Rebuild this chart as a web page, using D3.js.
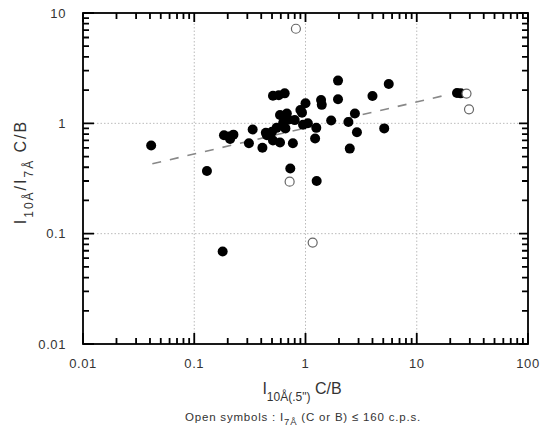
<!DOCTYPE html>
<html>
<head>
<meta charset="utf-8">
<script src="https://cdn.jsdelivr.net/npm/d3@7"></script>
<style>
  body { margin: 0; background: #fff; }
  text { font-family: "Liberation Sans", Arial, Helvetica, sans-serif; fill: #333; }
</style>
</head>
<body>
<svg width="544" height="433"></svg>
<script>
// tick labels
const xTicks = [0.01, 0.1, 1, 10, 100];
const yTicks = [0.01, 0.1, 1, 10];

// filled symbols
const filledX = [0.041, 0.13, 0.18, 0.185, 0.205, 0.225, 0.21, 0.31, 0.335, 0.41,
    0.45, 0.50, 0.55, 0.51, 0.575, 0.65, 0.59, 0.68, 0.63, 0.66,
    0.51, 0.59, 0.77, 0.73, 0.80, 0.90, 1.0, 0.93, 1.05, 0.95,
    1.25, 1.22, 1.26, 1.38, 1.40, 1.70, 1.96, 1.96, 2.43, 2.50,
    2.78, 2.90, 4.0, 5.1, 5.6, 23, 24.8, 0.70, 0.44];
const filledY = [0.63, 0.37, 0.069, 0.78, 0.76, 0.79, 0.72, 0.66, 0.88, 0.60,
    0.78, 0.84, 0.91, 1.78, 1.80, 1.87, 1.19, 1.23, 1.01, 0.90,
    0.70, 0.67, 0.66, 0.39, 1.07, 1.32, 1.52, 1.25, 1.0, 0.97,
    0.91, 0.73, 0.30, 1.63, 1.47, 1.06, 2.44, 1.65, 1.03, 0.59,
    1.23, 0.83, 1.77, 0.90, 2.27, 1.88, 1.87, 1.08, 0.82];

// open symbols
const openX = [0.82, 0.72, 1.16, 28, 29.5];
const openY = [7.2, 0.296, 0.083, 1.86, 1.34];

// fitted trend
const fitX = [0.042, 20];
const fitY = [0.43, 1.84];

const svg = d3.select('svg');
const pLeft = 83, pRight = 528, pTop = 13, pBottom = 344;

let x = d3.scaleLog().domain([0.01, 100]).range([pLeft, pRight]);
let y = d3.scaleLog().domain([0.01, 10]).range([pBottom, pTop]);

function isMajor(v) {
    let e = Math.log10(v);
    return Math.abs(e - Math.round(e)) < 1e-6;
}

// grid
let grid = svg.append('g')
    .attr('stroke', '#bbb').attr('stroke-width', 1).attr('stroke-dasharray', '1.5,2');
grid.selectAll('line.gx')
    .data(xTicks.slice(1, -1)).enter()
    .append('line')
    .attr('x1', d => x(d)).attr('x2', d => x(d))
    .attr('y1', pTop).attr('y2', pBottom);
grid.selectAll('line.gy')
    .data(yTicks.slice(1, -1)).enter()
    .append('line')
    .attr('y1', d => y(d)).attr('y2', d => y(d))
    .attr('x1', pLeft).attr('x2', pRight);

// frame
svg.append('rect')
    .attr('x', pLeft).attr('y', pTop)
    .attr('width', pRight - pLeft).attr('height', pBottom - pTop)
    .attr('fill', 'none').attr('stroke', '#000').attr('stroke-width', 1.8);

// inside ticks on all four sides, from the scales' own log ticks
let xTickVals = x.ticks();
let yTickVals = y.ticks();
let tickPath = '';
xTickVals.forEach(d => {
    let px = x(d), big = isMajor(d);
    tickPath += `M${px},${pBottom}V${pBottom - (big ? 11 : 6)}`;
    tickPath += `M${px},${pTop}V${pTop + (big ? 9 : 6)}`;
});
yTickVals.forEach(d => {
    let py = y(d), big = isMajor(d);
    tickPath += `M${pLeft},${py}H${pLeft + (big ? 11 : 6)}`;
    tickPath += `M${pRight},${py}H${pRight - (big ? 9 : 6)}`;
});
svg.append('path')
    .attr('d', tickPath)
    .attr('fill', 'none')
    .attr('stroke', '#000')
    .attr('stroke-width', 1.8);

// tick labels
svg.selectAll('text.xl')
    .data(xTicks).enter()
    .append('text')
    .attr('x', d => x(d)).attr('y', pBottom + 24)
    .attr('text-anchor', 'middle')
    .style('font-size', '13px').style('letter-spacing', '0.6px')
    .text(d => d3.format('~g')(d));
svg.selectAll('text.yl')
    .data(yTicks).enter()
    .append('text')
    .attr('x', pLeft - 17).attr('y', d => y(d) + 4.5)
    .attr('text-anchor', 'end')
    .style('font-size', '13px').style('letter-spacing', '0.6px')
    .text(d => d3.format('~g')(d));

// trend line
svg.append('path')
    .datum(fitX.map((v, i) => [v, fitY[i]]))
    .attr('d', d3.line().x(d => x(d[0])).y(d => y(d[1])))
    .attr('fill', 'none').attr('stroke', '#888').attr('stroke-width', 1.6)
    .attr('stroke-dasharray', '9,9');

// points
svg.append('g').selectAll('circle')
    .data(filledX.map((v, i) => [v, filledY[i]])).enter()
    .append('circle')
    .attr('cx', d => x(d[0])).attr('cy', d => y(d[1]))
    .attr('r', 5).attr('fill', '#000');

svg.append('g').selectAll('circle')
    .data(openX.map((v, i) => [v, openY[i]])).enter()
    .append('circle')
    .attr('cx', d => x(d[0])).attr('cy', d => y(d[1]))
    .attr('r', 4.5).attr('fill', '#fff').attr('stroke', '#666').attr('stroke-width', 1.2);

// axis titles
let xTitle = svg.append('text')
    .attr('x', 302).attr('y', 394)
    .attr('text-anchor', 'middle')
    .style('font-size', '16px');
xTitle.append('tspan').text('I');
xTitle.append('tspan').attr('dy', 7).style('font-size', '12px').text('10Å(.5")');
xTitle.append('tspan').attr('dy', -7).text(' C/B');

let yTitle = svg.append('text')
    .attr('transform', 'translate(26,172) rotate(-90)')
    .attr('text-anchor', 'middle')
    .style('font-size', '16px').style('letter-spacing', '2px');
yTitle.append('tspan').text('I');
yTitle.append('tspan').attr('dy', 7).style('font-size', '12px').text('10Å');
yTitle.append('tspan').attr('dy', -7).text('/I');
yTitle.append('tspan').attr('dy', 7).style('font-size', '12px').text('7Å');
yTitle.append('tspan').attr('dy', -7).text(' C/B');

let cap = svg.append('text')
    .attr('x', 303).attr('y', 421)
    .attr('text-anchor', 'middle')
    .style('font-size', '11.5px').style('letter-spacing', '0.8px');
cap.append('tspan').text('Open symbols : I');
cap.append('tspan').attr('dy', 4).style('font-size', '9.5px').text('7Å');
cap.append('tspan').attr('dy', -4).text(' (C or B) ≤ 160 c.p.s.');
</script>
</body>
</html>
